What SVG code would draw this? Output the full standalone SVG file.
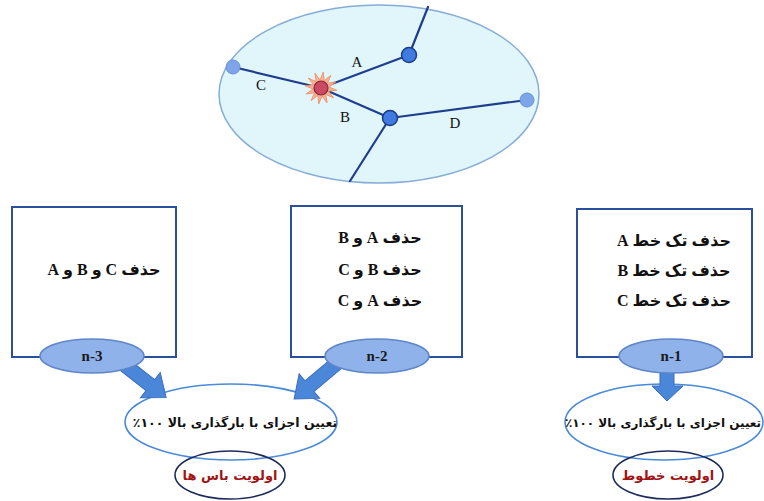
<svg xmlns="http://www.w3.org/2000/svg" width="764" height="501" viewBox="0 0 764 501">
<style>
.bg{fill:#ffffff}
.net{stroke:#1f3d8f;stroke-width:2.2;fill:none;stroke-linecap:round}
.lbl{font-family:"Liberation Serif",serif;font-size:15px;fill:#111}
.box{fill:#ffffff;stroke:#2a4f9c;stroke-width:2}
.tag{fill:#8fb2ea;stroke:#5f86c8;stroke-width:1.5}
.tagt{font-family:"Liberation Serif",serif;font-weight:bold;font-size:15px;fill:#1a1a1a;text-anchor:middle}
.fa{font-family:"Liberation Serif","DejaVu Sans",serif;font-size:16px;fill:#111;text-anchor:middle;font-weight:bold}
.arrow{fill:#4b87d9;stroke:#3a6cc0;stroke-width:1}
.big{fill:#ffffff;stroke:#4a8ad8;stroke-width:1.6}
.small{fill:none;stroke:#1c2b5c;stroke-width:1.6}
.bt{font-family:"DejaVu Sans",sans-serif;font-size:12.5px;font-weight:bold;fill:#111;text-anchor:middle}
.rt{font-family:"DejaVu Sans",sans-serif;font-size:13px;font-weight:bold;fill:#a01414;text-anchor:middle}
</style>
<rect class="bg" x="0" y="0" width="764" height="501"/>

<g id="network">
  <ellipse cx="379" cy="94" rx="160" ry="89" fill="#e0f6fb" stroke="#86acd8" stroke-width="1.5"/>
  <g class="net">
    <line x1="428" y1="7" x2="409" y2="55"/>
    <line x1="321" y1="88" x2="409" y2="55"/>
    <line x1="233" y1="67" x2="321" y2="88"/>
    <line x1="321" y1="88" x2="390" y2="118"/>
    <line x1="390" y1="118" x2="527" y2="100"/>
    <line x1="390" y1="118" x2="350" y2="181"/>
  </g>
  <polygon transform="translate(321,88) rotate(8)" fill="#f9b496" stroke="#f08a60" stroke-width="0.8" points="16,0 7.7,2.1 13.9,8 5.7,5.7 8,13.9 2.1,7.7 0,16 -2.1,7.7 -8,13.9 -5.7,5.7 -13.9,8 -7.7,2.1 -16,0 -7.7,-2.1 -13.9,-8 -5.7,-5.7 -8,-13.9 -2.1,-7.7 0,-16 2.1,-7.7 8,-13.9 5.7,-5.7 13.9,-8 7.7,-2.1"/>
  <circle cx="321" cy="88" r="7" fill="#c84b63" stroke="#8a2434" stroke-width="1.2"/>
  <circle cx="409" cy="55" r="7.5" fill="#3f7be0" stroke="#1c3a88" stroke-width="1.5"/>
  <circle cx="390" cy="118" r="7.5" fill="#3f7be0" stroke="#1c3a88" stroke-width="1.5"/>
  <circle cx="233" cy="67" r="7" fill="#7ea4ea" stroke="#6a8fd6" stroke-width="1"/>
  <circle cx="527" cy="100" r="7" fill="#7ea4ea" stroke="#6a8fd6" stroke-width="1"/>
  <text class="lbl" x="357" y="67" text-anchor="middle">A</text>
  <text class="lbl" x="261" y="90" text-anchor="middle">C</text>
  <text class="lbl" x="345" y="122" text-anchor="middle">B</text>
  <text class="lbl" x="455" y="128" text-anchor="middle">D</text>
</g>

<g id="load-left">
  <ellipse class="big" cx="231" cy="422" rx="106" ry="38"/>
  <text class="bt" x="235" y="427" direction="rtl">تعیین اجزای با بارگذاری بالا  &#x202D;٪۱۰۰&#x202C;</text>
</g>
<g id="prio-bus">
  <ellipse class="small" cx="230" cy="475" rx="55" ry="24"/>
  <text class="rt" x="230" y="480" direction="rtl">اولویت باس ها</text>
</g>

<g id="load-right">
  <ellipse class="big" cx="664" cy="422" rx="99" ry="38"/>
  <text class="bt" x="663" y="427" direction="rtl" style="font-size:12px">تعیین اجزای با بارگذاری بالا &#x202D;٪۱۰۰&#x202C;</text>
</g>
<g id="prio-lines">
  <ellipse class="small" cx="668" cy="475" rx="55" ry="24"/>
  <text class="rt" x="668" y="480" direction="rtl">اولویت خطوط</text>
</g>

<g id="connectors">
  <polygon class="arrow" transform="translate(122,363) rotate(38)" points="0,-7 36,-7 36,-16 56,0 36,16 36,7 0,7"/>
  <polygon class="arrow" transform="translate(337,363) rotate(140)" points="0,-7 36,-7 36,-16 56,0 36,16 36,7 0,7"/>
  <polygon class="arrow" points="660,371 674,371 674,386 683,386 667,401 652,386 660,386"/>
</g>

<g id="box-n3">
  <rect class="box" x="12" y="207" width="164" height="150"/>
  <text class="fa" x="104" y="275" direction="rtl">حذف C و B و A</text>
</g>
<g id="tag-n3">
  <ellipse class="tag" cx="92" cy="356" rx="52" ry="17"/>
  <text class="tagt" x="92" y="361">n-3</text>
</g>

<g id="box-n2">
  <rect class="box" x="291" y="206" width="171" height="151"/>
  <text class="fa" x="380" y="243" direction="rtl">حذف A و B</text>
  <text class="fa" x="380" y="275" direction="rtl">حذف B و C</text>
  <text class="fa" x="380" y="306" direction="rtl">حذف A و C</text>
</g>
<g id="tag-n2">
  <ellipse class="tag" cx="377" cy="356" rx="52" ry="17"/>
  <text class="tagt" x="377" y="361">n-2</text>
</g>

<g id="box-n1">
  <rect class="box" x="577" y="209" width="175" height="148"/>
  <text class="fa" x="674" y="246" direction="rtl">حذف تک خط A</text>
  <text class="fa" x="674" y="276" direction="rtl">حذف تک خط B</text>
  <text class="fa" x="674" y="306" direction="rtl">حذف تک خط C</text>
</g>
<g id="tag-n1">
  <ellipse class="tag" cx="671" cy="356" rx="52" ry="17"/>
  <text class="tagt" x="671" y="361">n-1</text>
</g>
</svg>
